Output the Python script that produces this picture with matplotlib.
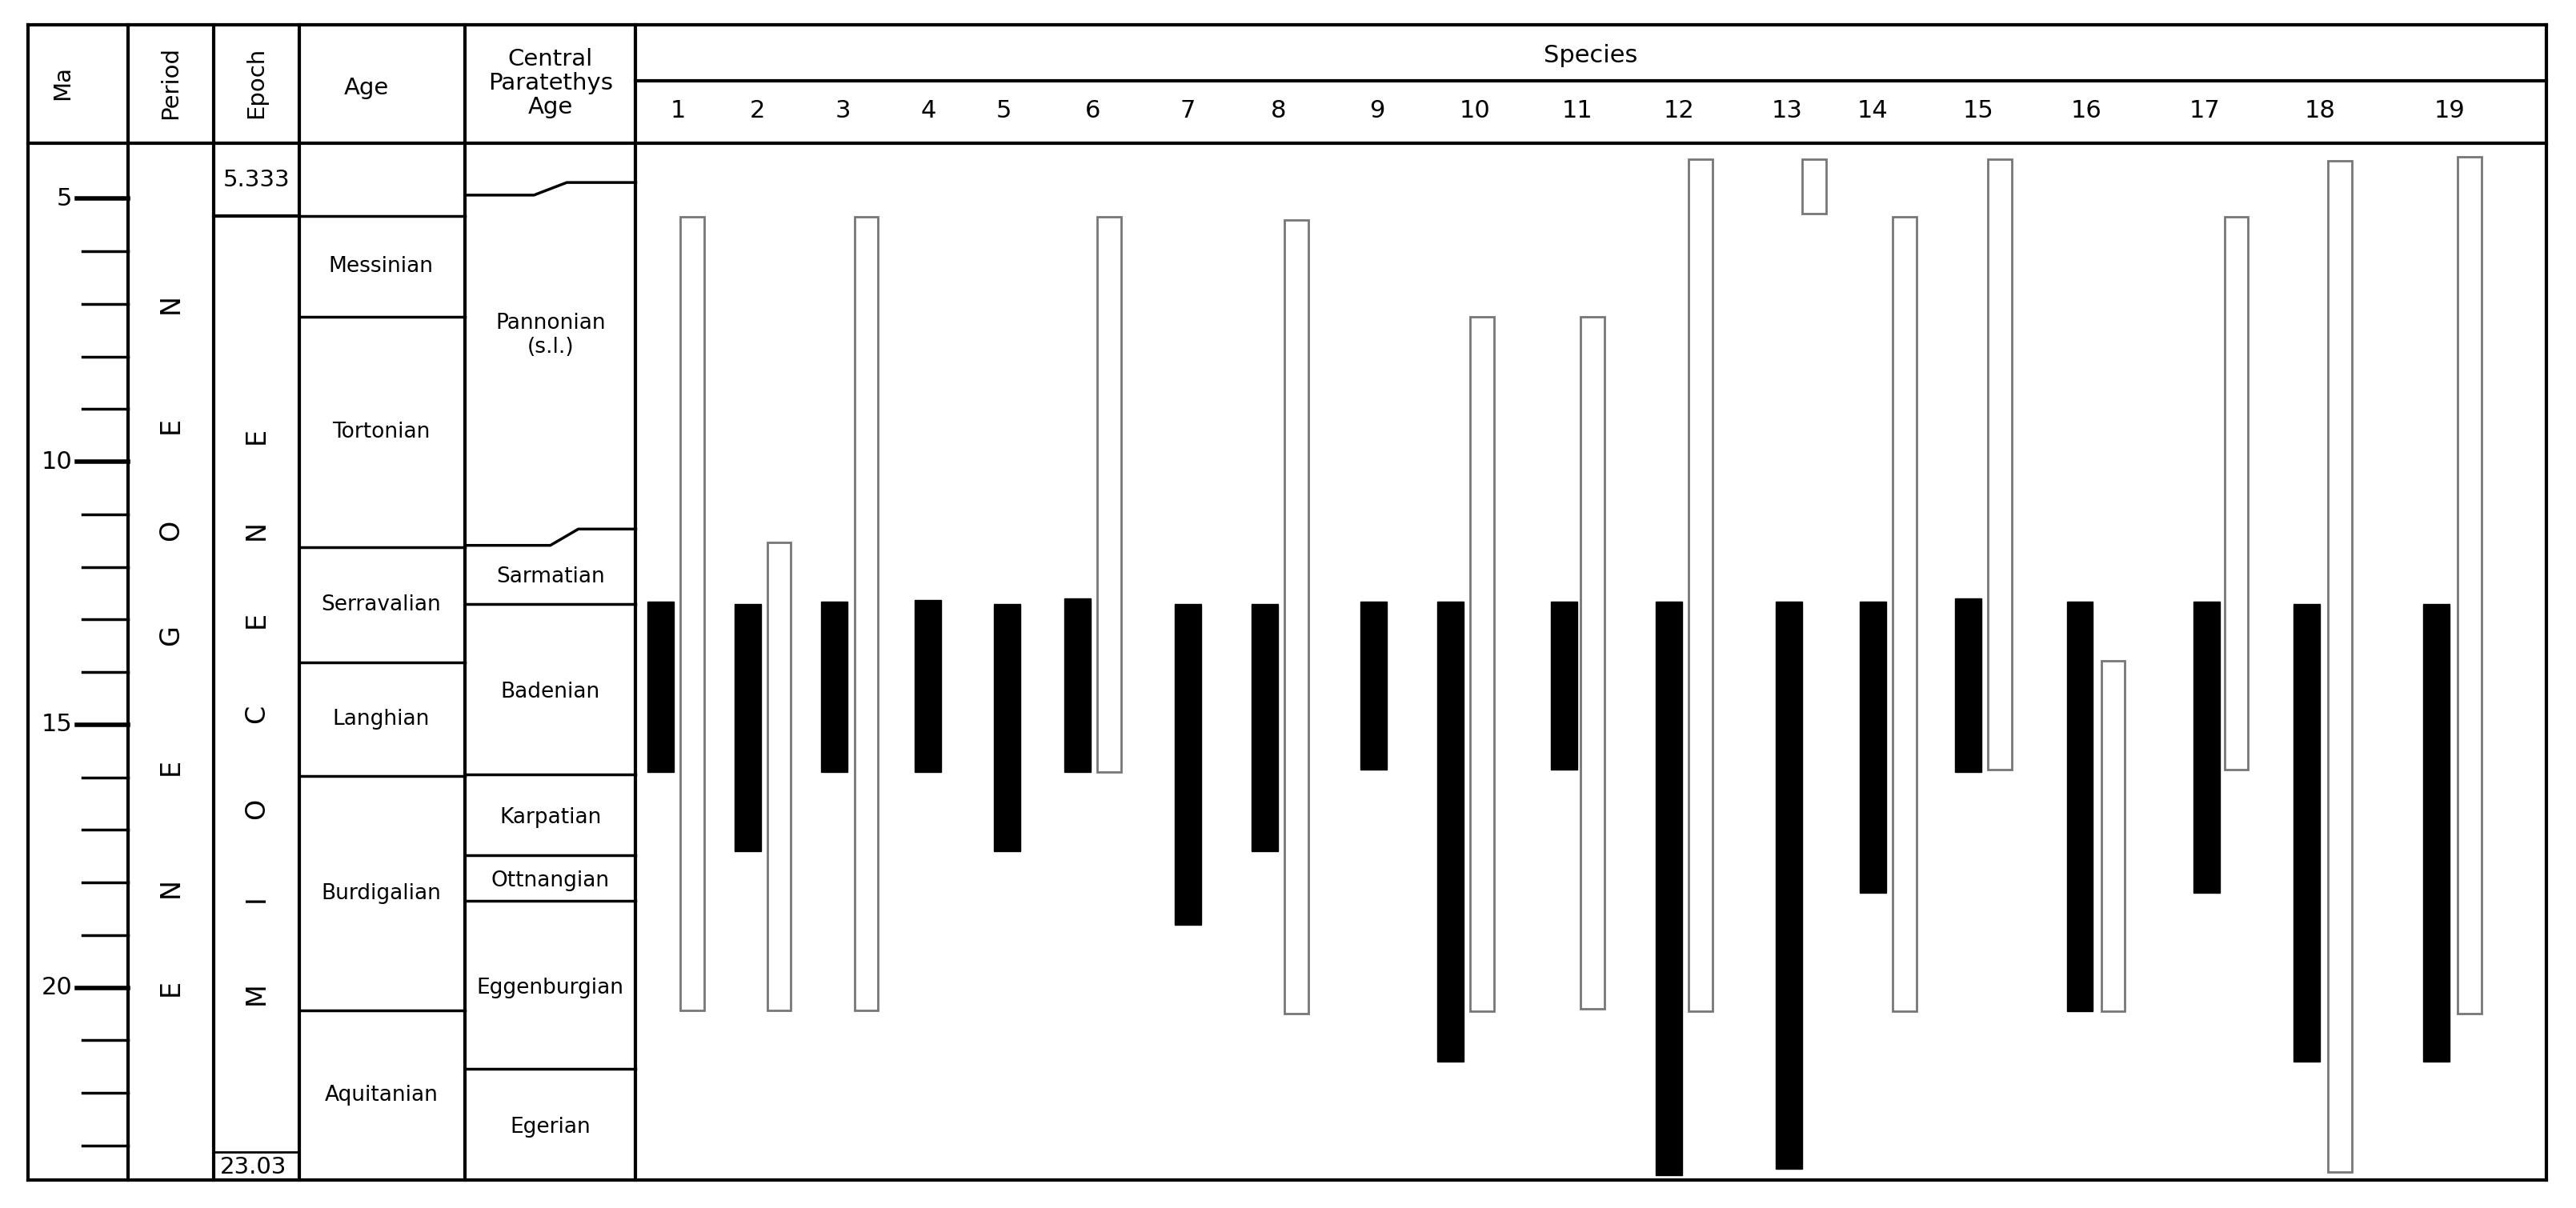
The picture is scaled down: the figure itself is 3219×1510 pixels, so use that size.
import matplotlib
matplotlib.use("Agg")
import matplotlib.pyplot as plt
from matplotlib.patches import Rectangle

species = [str(i) for i in range(1, 20)]
label_x = [413, 461, 513, 565, 611, 665, 723, 778, 838, 898, 960, 1022, 1088, 1140, 1204, 1270, 1342, 1412, 1491]
black_x = [394, 447, 500, 557, 605, 648, 715, 762, 828, 875, 944, 1008, 1081, 1132, 1190, 1258, 1335, 1396, 1475]
black_top = [12.66, 12.7, 12.66, 12.63, 12.7, 12.6, 12.7, 12.7, 12.66, 12.66, 12.66, 12.66, 12.66, 12.66, 12.6, 12.66, 12.66, 12.7, 12.7]
black_bot = [15.9, 17.4, 15.9, 15.9, 17.4, 15.9, 18.8, 17.4, 15.85, 21.4, 15.85, 23.56, 23.44, 18.2, 15.9, 20.45, 18.2, 21.4, 21.4]
white_x = [414, 467, 520, None, None, 668, None, 782, None, 895, 962, 1028, 1097, 1152, 1210, 1279, 1354, 1417, 1496]
white_top = [5.34, 11.53, 5.34, None, None, 5.34, None, 5.4, None, 7.25, 7.25, 4.25, 4.25, 5.34, 4.25, 13.78, 5.34, 4.28, 4.2]
white_bot = [20.44, 20.44, 20.44, None, None, 15.9, None, 20.5, None, 20.45, 20.4, 20.45, 5.28, 20.45, 15.85, 20.45, 15.85, 23.5, 20.5]

ma_ticks = list(range(5, 24))
ma_labels = ["5", "10", "15", "20"]
ages = ["Messinian", "Tortonian", "Serravalian", "Langhian", "Burdigalian", "Aquitanian"]
age_bounds = [5.333, 7.25, 11.63, 12.7, 13.82, 15.97, 20.44, 23.03]
para = ["Sarmatian", "Badenian", "Karpatian", "Ottnangian", "Eggenburgian", "Egerian"]
para_bounds = [12.7, 15.95, 17.48, 18.35, 21.55]

W = 1568
fig = plt.figure(figsize=(32.19, 15.10), dpi=100)
ax = fig.add_axes([0, 0, 1, 1])
ax.set_xlim(0, W)
ax.set_ylim(24.19, 1.22)
ax.axis("off")

TOP, HB, BOT = 1.69, 3.94, 23.66
lw = 3
cols = [17, 78, 130, 182, 283, 387, 1550]
for c in cols:
    ax.plot([c, c], [TOP, BOT], color="black", lw=lw)
ax.plot([17, 1550], [TOP, TOP], color="black", lw=lw)
ax.plot([17, 1550], [BOT, BOT], color="black", lw=lw)
ax.plot([17, 1550], [HB, HB], color="black", lw=lw)
ax.plot([387, 1550], [2.75, 2.75], color="black", lw=lw)

fs = 21
ax.text(38, 2.8, "Ma", rotation=90, ha="center", va="center", fontsize=fs)
ax.text(104, 2.8, "Period", rotation=90, ha="center", va="center", fontsize=fs)
ax.text(156, 2.8, "Epoch", rotation=90, ha="center", va="center", fontsize=fs)
ax.text(223, 2.9, "Age", ha="center", va="center", fontsize=fs)
ax.text(335, 2.8, "Central\nParatethys\nAge", ha="center", va="center", fontsize=fs, linespacing=1.1)
ax.text(968, 2.28, "Species", ha="center", va="center", fontsize=fs + 1)
for s, x in zip(species, label_x):
    ax.text(x, 3.33, s, ha="center", va="center", fontsize=fs + 1)

# Ma ticks
for t in ma_ticks:
    major = t % 5 == 0
    ax.plot([47 if major else 50, 78], [t, t], color="black", lw=4 if major else 2.5)
    if major:
        ax.text(44, t, str(t), ha="right", va="center", fontsize=fs + 1)

for i, ch in enumerate("NEOGENE"):
    y = [4.9 + 5.9, 4.9 + 3.95, 4.9 + 6.0][0]
ne_y = [20.0, 18.1, 15.8, 13.3, 11.3, 9.3, 7.0][::-1]
for ch, y in zip("NEOGENE", ne_y):
    ax.text(104, y, ch, rotation=90, ha="center", va="center", fontsize=24)
mio_y = [20.1, 18.3, 16.6, 14.8, 13.0, 11.3, 9.5][::-1]
for ch, y in zip("MIOCENE", mio_y[::-1][::-1]):
    pass
for ch, y in zip("ENECOIM", [9.5, 11.3, 13.0, 14.8, 16.6, 18.3, 20.1]):
    ax.text(156, y, ch, rotation=90, ha="center", va="center", fontsize=24)
ax.plot([130, 182], [5.333, 5.333], color="black", lw=lw)
ax.text(156, 4.65, "5.333", ha="center", va="center", fontsize=fs)
ax.plot([130, 182], [23.125, 23.125], color="black", lw=2)
ax.text(154, 23.42, "23.03", ha="center", va="center", fontsize=fs)

for b in age_bounds[:-1]:
    if b == 12.7:
        continue
    ax.plot([182, 283], [b, b], color="black", lw=2.5)
ax.plot([182, 283], [12.7, 12.7], color="black", lw=0)
ab = [5.333, 7.25, 11.63, 13.82, 15.97, 20.44, 23.66]
for name, a, b in zip(ages, ab[:-1], ab[1:]):
    ax.text(232, (a + b) / 2, name, ha="center", va="center", fontsize=fs - 2)

# Paratethys
ax.plot([283, 325, 345, 387], [4.93, 4.93, 4.69, 4.69], color="black", lw=2.5)
ax.plot([283, 335, 352, 387], [11.59, 11.59, 11.28, 11.28], color="black", lw=2.5)
for b in para_bounds:
    ax.plot([283, 387], [b, b], color="black", lw=2.5)
ax.text(335, 7.6, "Pannonian\n(s.l.)", ha="center", va="center", fontsize=fs - 2)
pb = [11.59, 12.7, 15.95, 17.48, 18.35, 21.55, 23.66]
for name, a, b in zip(para, pb[:-1], pb[1:]):
    ax.text(335, (a + b) / 2 + 0.05, name, ha="center", va="center", fontsize=fs - 2)

# bars
for x, t, b in zip(black_x, black_top, black_bot):
    ax.add_patch(Rectangle((x, t), 16, b - t, facecolor="black", edgecolor="black", lw=1))
for x, t, b in zip(white_x, white_top, white_bot):
    if x is None:
        continue
    ax.add_patch(Rectangle((x, t), 14.5, b - t, facecolor="white", edgecolor="#777777", lw=2))

fig.savefig("out.png", dpi=100, facecolor="white")
